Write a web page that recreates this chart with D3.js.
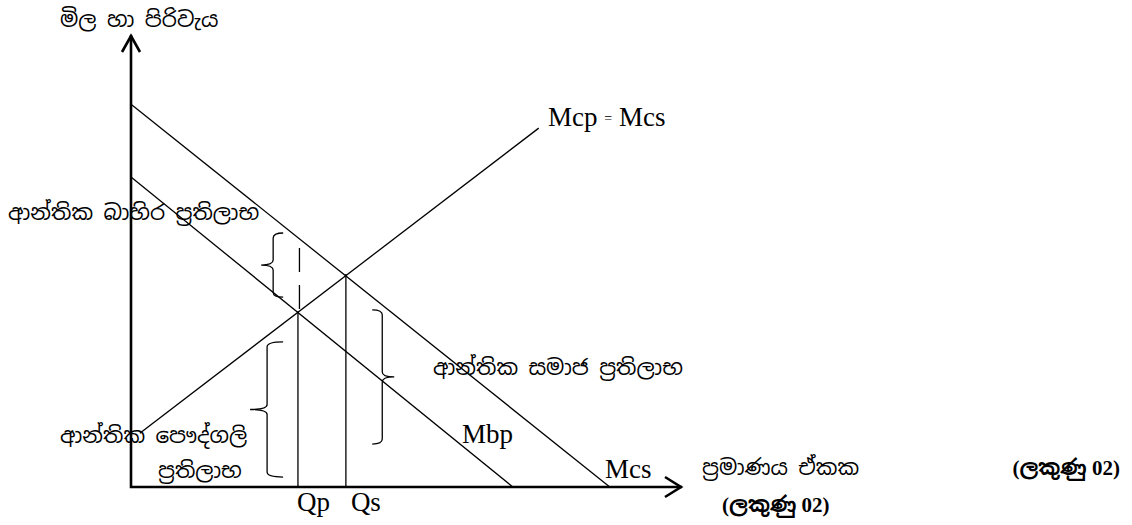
<!DOCTYPE html>
<html>
<head>
<meta charset="utf-8">
<script src="https://cdn.jsdelivr.net/npm/d3@7"></script>
<style>
  body { margin: 0; background: #fff; }
  .latin { font-family: "Liberation Serif", "Times New Roman", serif; }
  .sinh { font-family: "Liberation Serif", "Noto Sans Sinhala", "Noto Serif Sinhala", "Iskoola Pota", serif; }
</style>
</head>
<body>
<div id="wrapper"></div>
<script>
// ---------- data (quantity / price units, 0-100)
const mcsLine = [[0, 84.7], [86.9, 0]]
const mbpLine = [[0, 68.6], [69.3, 0]]
const supplyLine = [[1.6, 11.9], [74.0, 79.4]]
const qLabels = ["Qp", "Qs"]
const qValues = [30.3, 39.0]
const qPrices = [38.9, 47.1]
// braces: [spine quantity, top price, bottom price]
const braceExternal = [25.8, 56.2, 42.0]
const bracePrivate = [24.7, 32.1, 2.2]
const braceSocial = [45.6, 39.2, 9.5]

const yTitle = "මිල හා පිරිවැය"
const xTitle = "ප්‍රමාණය ඒකක"
const marksText = "(ලකුණු 02)"

// ---------- dimensions
const dimensions = { width: 1132, height: 525 }

const svg = d3.select("#wrapper")
  .append("svg")
  .attr("width", dimensions.width)
  .attr("height", dimensions.height)

const xScale = d3.scaleLinear().domain([0, 100]).range([131, 682])
const yScale = d3.scaleLinear().domain([0, 100]).range([487, 35])

const line = d3.line().x(d => xScale(d[0])).y(d => yScale(d[1]))

// ---------- axes
const x0 = xScale(0), y0 = yScale(0)
const xEnd = xScale(100), yEnd = yScale(100)

svg.append("path")
  .attr("d", `M${x0},${yEnd}L${x0},${y0}L${xEnd},${y0}`)
  .attr("fill", "none").attr("stroke", "#000").attr("stroke-width", 2.6)

// arrowheads
svg.append("path")
  .attr("d", `M${x0 - 9},${yEnd + 17}L${x0},${yEnd + 1}L${x0 + 9},${yEnd + 17}`)
  .attr("fill", "none").attr("stroke", "#000").attr("stroke-width", 2.6)
svg.append("path")
  .attr("d", `M${xEnd - 17},${y0 - 10}L${xEnd - 1},${y0}L${xEnd - 17},${y0 + 10}`)
  .attr("fill", "none").attr("stroke", "#000").attr("stroke-width", 2.6)

// ---------- curves
svg.selectAll(".curve")
  .data([mcsLine, mbpLine, supplyLine])
  .join("path")
  .attr("class", "curve")
  .attr("d", line)
  .attr("fill", "none").attr("stroke", "#000").attr("stroke-width", 1.3)

// ---------- Qp / Qs verticals
svg.selectAll(".qline")
  .data(qValues)
  .join("line")
  .attr("class", "qline")
  .attr("x1", d => xScale(d)).attr("x2", d => xScale(d))
  .attr("y1", (d, i) => yScale(qPrices[i])).attr("y2", y0)
  .attr("stroke", "#000").attr("stroke-width", 1.3)

// dashed part above Qp
svg.append("line")
  .attr("x1", xScale(qValues[0]) + 1.5).attr("x2", xScale(qValues[0]) + 1.5)
  .attr("y1", yScale(braceExternal[1]) + 15).attr("y2", yScale(qPrices[0]))
  .attr("stroke", "#000").attr("stroke-width", 1.3)
  .attr("stroke-dasharray", "24,13")

svg.selectAll(".qlabel")
  .data(qLabels)
  .join("text")
  .attr("class", "qlabel latin")
  .attr("x", (d, i) => xScale(qValues[i]) - 1 + i * 6)
  .attr("y", 511)
  .attr("font-size", 27)
  .text(d => d)

// ---------- braces
function bracePath(b, dir, arm, tip) {
  const xs = xScale(b[0]), yt = yScale(b[1]), yb = yScale(b[2])
  const ym = (yt + yb) / 2, r = 5
  const d = -dir
  return `M${xs + d * arm},${yt}` +
    `Q${xs},${yt} ${xs},${yt + r}` +
    `L${xs},${ym - r}` +
    `Q${xs},${ym} ${xs + dir * tip},${ym}` +
    `Q${xs},${ym} ${xs},${ym + r}` +
    `L${xs},${yb - r}` +
    `Q${xs},${yb} ${xs + d * arm},${yb}`
}

svg.append("path").attr("d", bracePath(braceExternal, -1, 10, 12))
  .attr("fill", "none").attr("stroke", "#000").attr("stroke-width", 1.3)
svg.append("path").attr("d", bracePath(bracePrivate, -1, 16, 17))
  .attr("fill", "none").attr("stroke", "#000").attr("stroke-width", 1.3)
svg.append("path").attr("d", bracePath(braceSocial, 1, 10, 12))
  .attr("fill", "none").attr("stroke", "#000").attr("stroke-width", 1.3)

// ---------- curve labels
const mcpLabel = svg.append("text").attr("class", "latin")
  .attr("x", 548).attr("y", 126).attr("font-size", 27)
mcpLabel.append("tspan").text("Mcp ")
mcpLabel.append("tspan").attr("font-size", 14).attr("dy", -3).text("=")
mcpLabel.append("tspan").attr("dy", 3).text(" Mcs")

svg.append("text").attr("class", "latin")
  .attr("x", 462).attr("y", 443).attr("font-size", 27).text("Mbp")
svg.append("text").attr("class", "latin")
  .attr("x", 605).attr("y", 478).attr("font-size", 27).text("Mcs")

// ---------- Sinhala annotations
const sinh = (x, y, t, size, bold) => svg.append("text")
  .attr("class", "sinh")
  .attr("x", x).attr("y", y)
  .attr("font-size", size)
  .attr("font-weight", bold ? "bold" : "normal")
  .attr("word-spacing", bold ? 0 : 5)
  .text(t)

sinh(60, 27, yTitle, 21.5)
sinh(8, 220, "ආන්තික බාහිර ප්‍රතිලාභ", 21.5)
sinh(433, 375, "ආන්තික සමාජ ප්‍රතිලාභ", 21.5)
sinh(60, 443, "ආන්තික පෞද්ගලි", 21.5)
sinh(158, 478, "ප්‍රතිලාභ", 21.5)
sinh(702, 475, xTitle, 21.5)
sinh(1120, 475, marksText, 21, true).attr("text-anchor", "end")
sinh(722, 512, marksText, 21, true)
</script>
</body>
</html>
